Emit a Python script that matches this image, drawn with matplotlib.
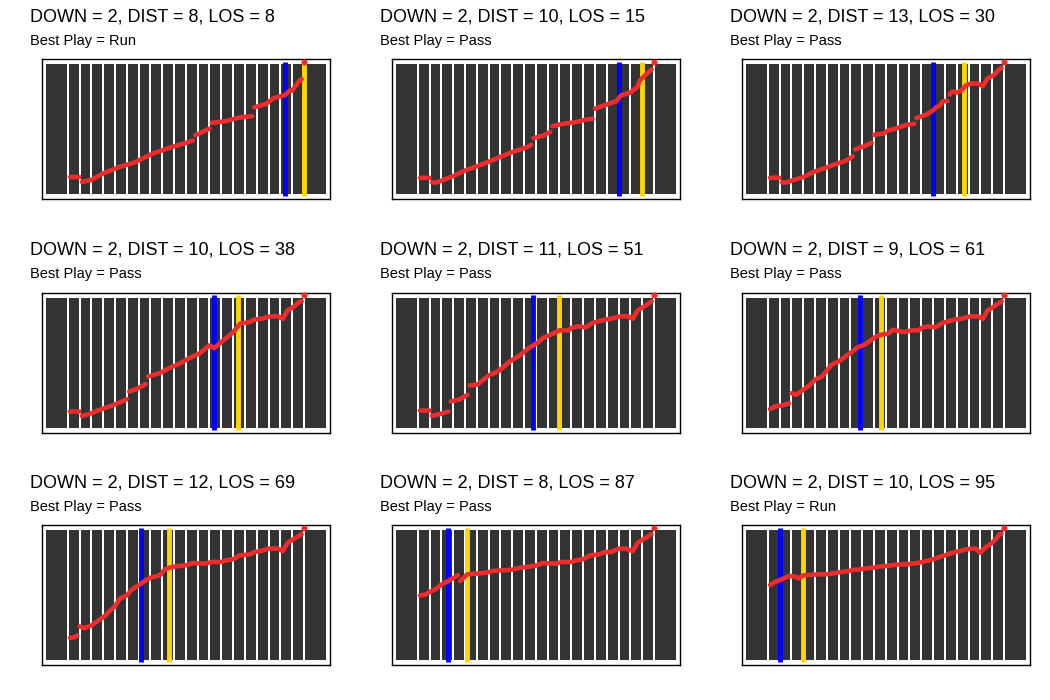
import numpy as np
import matplotlib
matplotlib.use("Agg")
import matplotlib.pyplot as plt
from matplotlib.patches import Rectangle

plt.rcParams["font.family"] = ["Liberation Sans", "DejaVu Sans"]

nan = np.nan

# situation per panel (row by row)
down = [2, 2, 2, 2, 2, 2, 2, 2, 2]
dist = [8, 10, 13, 10, 11, 9, 12, 8, 10]
los = [8, 15, 30, 38, 51, 61, 69, 87, 95]
best_play = ["Run", "Pass", "Pass", "Pass", "Pass", "Pass", "Pass", "Pass", "Run"]

# curve per panel: field x (0-120, endzones included) and value (0 = bottom, 1 = top of field)
# nan marks a break in the curve
x_p1 = [11, 15, nan, 16, 20, 25, 32, 38, 46, 55, 60, 63, nan, 64, 67, 70, nan,
        71, 77, 82, 88, nan, 89, 94, 97, 102, 104, 105, 108, 109]
y_p1 = [.130, .130, nan, .092, .107, .158, .209, .240, .311, .367, .393, .413, nan,
        .452, .477, .503, nan, .548, .561, .587, .600, nan, .668, .694, .737, .763,
        .796, .796, .872, .885]

x_p2 = [11, 15, nan, 16, 18, 20, 25, 30, 39, 44, 50, 56, 58, nan, 59, 63, 66, nan,
        67, 71, 77, 81, 84, nan, 85, 89, 94, 96, 100, 103, 104, 106, 109]
y_p2 = [.124, .124, nan, .088, .088, .101, .137, .180, .240, .278, .322, .358, .379,
        nan, .430, .448, .477, nan, .521, .539, .554, .572, .580, nan, .657, .683,
        .714, .760, .781, .825, .876, .910, .961]

x_p3 = [11, 15, nan, 16, 18, 20, 25, 30, 35, 39, 43, 46, nan, 47, 51, 54, nan,
        55, 59, 61, 64, 68, 72, nan, 73, 77, 80, 81, 83, 84, 86, nan,
        87, 88, 90, 92, 94, 96, 99, 101, 103, 106, 108, 109]
y_p3 = [.124, .124, nan, .088, .088, .101, .129, .173, .204, .232, .255, .289, nan,
        .343, .369, .394, nan, .456, .464, .490, .503, .528, .541, nan,
        .585, .611, .644, .665, .683, .714, .716, nan,
        .765, .789, .781, .800, .838, .851, .851, .830, .889, .920, .961, .972]

x_p4 = [11, 15, nan, 16, 19, 23, 28, 32, 35, nan, 36, 39, 43, nan,
        44, 49, 53, 57, 61, 66, 70, 72, 75, 78, 80, 83, 87, 89, 92, 96, 99, 101,
        103, 106, 108, 109]
y_p4 = [.124, .124, nan, .090, .103, .134, .165, .193, .219, nan, .278, .296, .335,
        nan, .394, .420, .459, .490, .531, .575, .634, .613, .660, .704, .735, .802,
        .814, .832, .840, .858, .858, .838, .902, .936, .969, .974]

x_p5 = [11, 15, nan, 16, 19, 23, nan, 24, 28, 31, nan,
        32, 35, 37, 40, 44, 49, 53, 57, 61, 63, 67, 70, 74, 75, 78, 81, 84, 89, 92,
        96, 99, 101, 103, 106, 109]
y_p5 = [.131, .131, nan, .090, .103, .124, nan, .201, .219, .253, nan,
        .325, .330, .356, .402, .433, .510, .554, .613, .657, .691, .722, .750,
        .750, .768, .781, .773, .807, .832, .840, .858, .858, .838, .902, .936, .974]

x_p6 = [11, 13, 16, 19, nan,
        20, 22, 25, 28, 30, 33, 37, 40, 43, 46, 48, 51, 53, 56, 58, 61, 63, 66, 68,
        71, 74, 75, 78, 81, 84, 89, 92, 96, 99, 101, 103, 106, 109]
y_p6 = [.142, .162, .170, .188, nan,
        .265, .253, .291, .330, .369, .394, .485, .510, .549, .588, .619, .639,
        .665, .704, .716, .724, .755, .742, .737, .750, .750, .768, .781, .773,
        .807, .832, .840, .858, .858, .838, .902, .936, .974]

x_p7 = [11, 13, 14, nan,
        15, 17, 20, 23, 26, 28, 30, 32, 35, 37, 40, 43, 45, 49, 51, 53, 56, 60, 63,
        68, 71, 75, 77, 80, 83, 87, 89, 92, 95, 99, 101, 103, 106, 109]
y_p7 = [.170, .175, .188, nan,
        .258, .245, .265, .304, .343, .381, .412, .472, .497, .541, .575, .613,
        .634, .652, .696, .711, .722, .729, .747, .742, .755, .755, .768, .776,
        .807, .814, .832, .840, .858, .858, .838, .902, .936, .969]

x_p8 = [11, 13, 15, 18, 20, 23, 25, 27, nan,
        28, 31, 35, 39, 42, 46, 50, 53, 56, 60, 63, 68, 71, 75, 77, 80, 83, 87, 89,
        92, 95, 98, 101, 103, 106, 109]
y_p8 = [.497, .503, .523, .549, .582, .608, .631, .652, nan,
        .608, .660, .665, .673, .686, .691, .696, .709, .716, .727, .747, .742,
        .755, .755, .768, .776, .807, .814, .832, .832, .858, .858, .838, .902,
        .936, .969]

x_p9 = [11, 13, 16, 19, 22, 23, 25, 28, 32, 35, 38, 41, 44, 46, 49, 52, 55, 57, 60,
        63, 66, 69, 71, 74, 77, 80, 83, 85, 88, 91, 94, 96, 98, 100, 102, 105, 107,
        108, 109]
y_p9 = [.578, .601, .621, .647, .642, .627, .652, .655, .660, .660, .668, .678, .685,
        .693, .698, .706, .711, .719, .724, .731, .737, .737, .742, .749, .762, .775,
        .795, .806, .826, .839, .852, .857, .857, .826, .864, .903, .941, .967, .972]

# touchdown value (dot at the goal line)
td_x = 110
td_value = [1.018, 1.02, 1.02, 1.02, 1.02, 1.02, 1.02, 1.02, 1.02]

curves_x = [x_p1, x_p2, x_p3, x_p4, x_p5, x_p6, x_p7, x_p8, x_p9]
curves_y = [y_p1, y_p2, y_p3, y_p4, y_p5, y_p6, y_p7, y_p8, y_p9]

FIELD = "#333333"
RED = "#EE2C2C"
BLUE = "#0000FF"
GOLD = "#FFD700"

W, H = 1050, 700
fig = plt.figure(figsize=(W / 100, H / 100), dpi=100)

col_left = [41.7, 391.7, 741.7]
row_top = [59.3, 293.0, 525.3]
ax_w, ax_h = 288.3, 139.5
title_x = [29.5, 379.5, 729.5]
title_base = [21.5, 254.5, 487.5]

for i in range(9):
    r, c = divmod(i, 3)
    ax = fig.add_axes([col_left[c] / W, 1 - (row_top[r] + ax_h) / H, ax_w / W, ax_h / H])
    ax.set_xlim(-1, 121)
    ax.set_ylim(-0.038, 1.038)
    ax.set_xticks([])
    ax.set_yticks([])
    for s in ax.spines.values():
        s.set_linewidth(1.0)
        s.set_color("black")

    # field tiles
    ax.add_patch(Rectangle((0.8, 0), 118.4, 1, facecolor=FIELD, edgecolor="none", zorder=1))
    ax.vlines(np.arange(10, 111, 5), 0, 1, color="white", linewidth=1.1,
              antialiased=False, zorder=2)

    # line of scrimmage and first-down marker
    los_x = 110 - los[i]
    ax.vlines(los_x, -0.02, 1.02, color=BLUE, linewidth=3.5, zorder=3)
    ax.vlines(los_x + dist[i], -0.02, 1.02, color=GOLD, linewidth=3.5, zorder=3)

    # value curve
    ax.plot(curves_x[i], curves_y[i], color=RED, linewidth=3.3,
            solid_capstyle="round", solid_joinstyle="round", zorder=4)
    ax.plot([td_x], [td_value[i]], "o", color=RED, markersize=4.4,
            markeredgewidth=0, zorder=5, clip_on=False)

    fig.text(title_x[c] / W, 1 - title_base[r] / H,
             f"DOWN = {down[i]}, DIST = {dist[i]}, LOS = {los[i]}",
             fontsize=13, ha="left", va="baseline")
    fig.text(title_x[c] / W, 1 - (title_base[r] + 23.3) / H,
             f"Best Play = {best_play[i]}",
             fontsize=10.5, ha="left", va="baseline")

fig.savefig("out.png", dpi=100)
